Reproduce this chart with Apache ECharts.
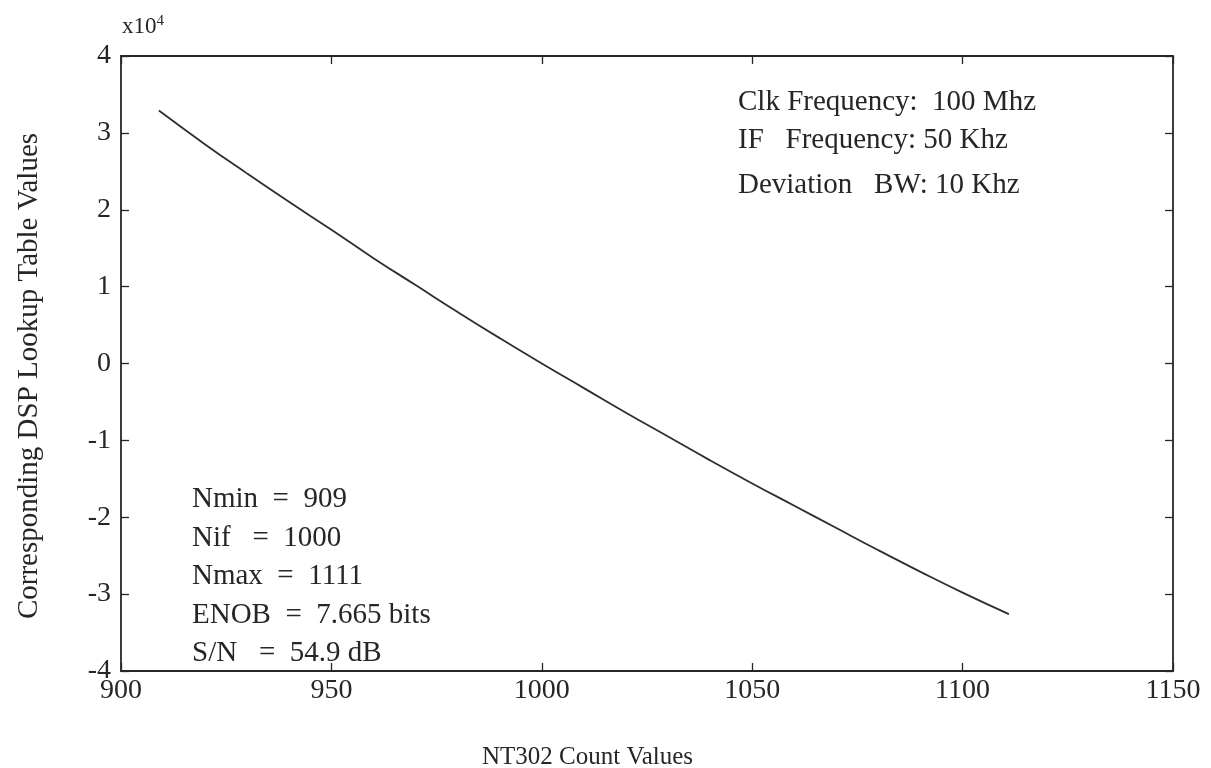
<!DOCTYPE html>
<html>
<head>
<meta charset="utf-8">
<script src="https://cdn.jsdelivr.net/npm/echarts@6/dist/echarts.min.js"></script>
<style>
  html, body { margin: 0; padding: 0; background: #fff; }
  #chart { width: 1211px; height: 768px; }
</style>
</head>
<body>
<div id="chart"></div>
<script>
// values
const counts = [909, 920, 930, 940, 950, 960, 970, 980, 990, 1000, 1010,
  1020, 1030, 1040, 1050, 1060, 1070, 1080, 1090, 1100, 1111];
const lookup = [32900, 28500, 24700, 21000, 17400, 13700, 10200, 6700, 3300, 0, -3200,
  -6400, -9500, -12600, -15600, -18500, -21400, -24300, -27100, -29800, -32600];
const xTicks = [900, 950, 1000, 1050, 1100, 1150];
const yTicks = [-4, -3, -2, -1, 0, 1, 2, 3, 4];
const infoRight = ['Clk Frequency:  100 Mhz', 'IF   Frequency: 50 Khz', 'Deviation   BW: 10 Khz'];
const infoLeft = ['Nmin  =  909', 'Nif   =  1000', 'Nmax  =  1111', 'ENOB  =  7.665 bits', 'S/N   =  54.9 dB'];

const font = '"Liberation Serif", "DejaVu Serif", serif';
const ink = '#262626';

const chart = echarts.init(document.getElementById('chart'));

const axisLine = { show: true, onZero: false, lineStyle: { color: ink, width: 1.8 } };
const tick = { show: true, inside: true, length: 8, lineStyle: { color: ink, width: 1.3 } };

const graphics = [];
infoRight.forEach((t, i) => {
  graphics.push({ type: 'text', left: 738, top: [88, 126, 171][i],
    style: { text: t, font: '29px ' + font, fill: ink } });
});
infoLeft.forEach((t, i) => {
  graphics.push({ type: 'text', left: 192, top: 485 + i * 38.5,
    style: { text: t, font: '29px ' + font, fill: ink } });
});
graphics.push({ type: 'text', left: 122, top: 14,
  style: { rich: { a: { font: '23px ' + font, fill: ink }, s: { font: '15px ' + font, fill: ink, verticalAlign: 'top', padding: [0, 0, 10, 0] } },
    text: '{a|x10}{s|4}' } });
// axis titles are not centred on the axes in the original
graphics.push({ type: 'text', left: 482, top: 745,
  style: { text: 'NT302 Count Values', font: '25px ' + font, fill: ink } });
graphics.push({ type: 'text', x: 29, y: 376, rotation: Math.PI / 2,
  style: { text: 'Corresponding DSP Lookup Table Values', font: '29px ' + font, fill: ink,
    align: 'center', verticalAlign: 'middle' } });

chart.setOption({
  backgroundColor: '#fff',
  animation: false,
  grid: { left: 121, right: 38, top: 56, bottom: 97, containLabel: false, outerBoundsMode: 'none' },
  xAxis: [
    {
      type: 'value', min: 900, max: 1150, interval: 50,
      axisLine, axisTick: tick, splitLine: { show: false },
      axisLabel: { fontFamily: font, fontSize: 28, color: ink, margin: 6,
        formatter: v => xTicks.includes(v) ? String(v) : '' }
    },
    {
      type: 'value', min: 900, max: 1150, interval: 50, position: 'top',
      axisLine, axisTick: tick, axisLabel: { show: false }, splitLine: { show: false }
    }
  ],
  yAxis: [
    {
      type: 'value', min: -40000, max: 40000, interval: 10000,
      axisLine, axisTick: tick, splitLine: { show: false },
      axisLabel: { fontFamily: font, fontSize: 28, color: ink, margin: 10,
        formatter: v => yTicks.includes(v / 10000) ? String(v / 10000) : '' }
    },
    {
      type: 'value', min: -40000, max: 40000, interval: 10000, position: 'right',
      axisLine, axisTick: tick, axisLabel: { show: false }, splitLine: { show: false }
    }
  ],
  series: [{
    type: 'line',
    data: counts.map((c, i) => [c, lookup[i]]),
    smooth: true,
    showSymbol: false,
    lineStyle: { color: '#2e2e2e', width: 1.8 }
  }],
  graphic: graphics
});
</script>
</body>
</html>
